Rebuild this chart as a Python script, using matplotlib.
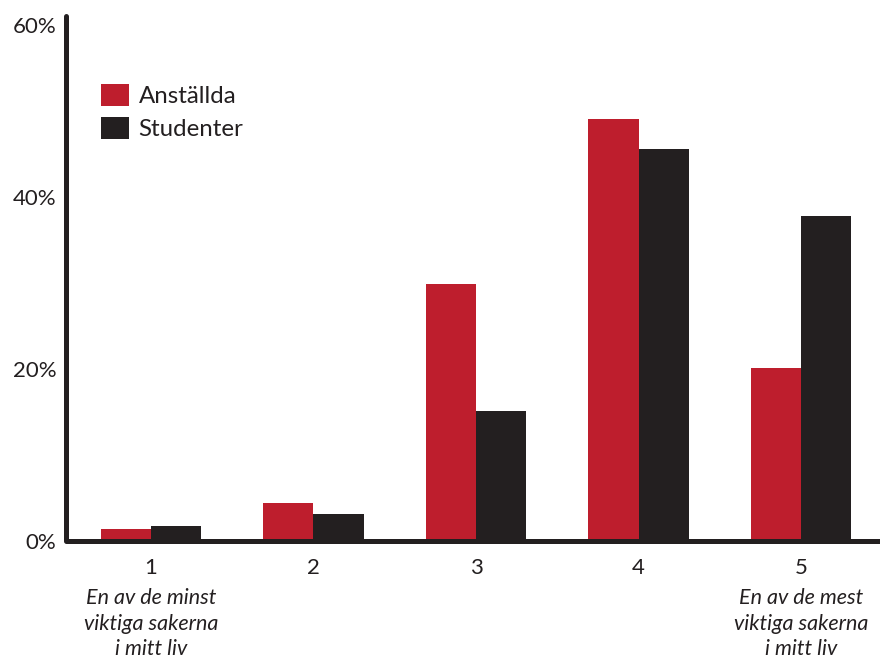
import matplotlib
matplotlib.use("Agg")
import matplotlib.pyplot as plt
import numpy as np

categories = ["1", "2", "3", "4", "5"]
anstallda = [1.4, 4.4, 29.9, 49.0, 20.1]
studenter = [1.7, 3.1, 15.1, 45.5, 37.8]
series_names = ["Anställda", "Studenter"]
yticks = [0, 20, 40, 60]
ytick_labels = ["0%", "20%", "40%", "60%"]
end_notes = {0: "En av de minst\nviktiga sakerna\ni mitt liv",
             4: "En av de mest\nviktiga sakerna\ni mitt liv"}

RED = "#be1e2d"
DARK = "#231f20"
plt.rcParams['font.family'] = ['Lato', 'DejaVu Sans']

fig = plt.figure(figsize=(8.8, 6.55), dpi=100)
ax = fig.add_axes([66/880, 1-541/655, 1-66/880, (541-16)/655])

x = np.arange(len(categories))
w = 0.31
ax.bar(x - w/2, anstallda, width=w, color=RED, label=series_names[0], zorder=2)
ax.bar(x + w/2, studenter, width=w, color=DARK, label=series_names[1], zorder=2)

ax.set_xlim(-0.523, 4.486)
ax.set_ylim(0, 61)
ax.set_yticks(yticks)
ax.set_yticklabels(ytick_labels, fontsize=16, color=DARK)
ax.set_xticks(x)
ax.set_xticklabels(categories, fontsize=16, color=DARK)
ax.tick_params(axis='both', length=0)
ax.tick_params(axis='y', pad=7)
ax.tick_params(axis='x', pad=12)

for s in ['top', 'right']:
    ax.spines[s].set_visible(False)
for s in ['left', 'bottom']:
    ax.spines[s].set_linewidth(3.6)
    ax.spines[s].set_color(DARK)
    ax.spines[s].set_zorder(3)
ax.spines['left'].set_capstyle('round')
ax.spines['bottom'].set_capstyle('butt')

for i, note in end_notes.items():
    ax.annotate(note, xy=(x[i], 0), xycoords='data',
                xytext=(0, -34), textcoords='offset points',
                ha='center', va='top', fontsize=15.5, style='italic',
                color=DARK, linespacing=1.34, annotation_clip=False)

leg = fig.legend(loc='upper left', bbox_to_anchor=(101/880, 1 - 84/655),
                 bbox_transform=fig.transFigure, frameon=False, fontsize=17.3,
                 handlelength=1.17, handleheight=1.0, labelspacing=0.42,
                 handletextpad=0.4, borderaxespad=0, borderpad=0)
for t in leg.get_texts():
    t.set_color(DARK)

fig.savefig("out.png", dpi=100)
